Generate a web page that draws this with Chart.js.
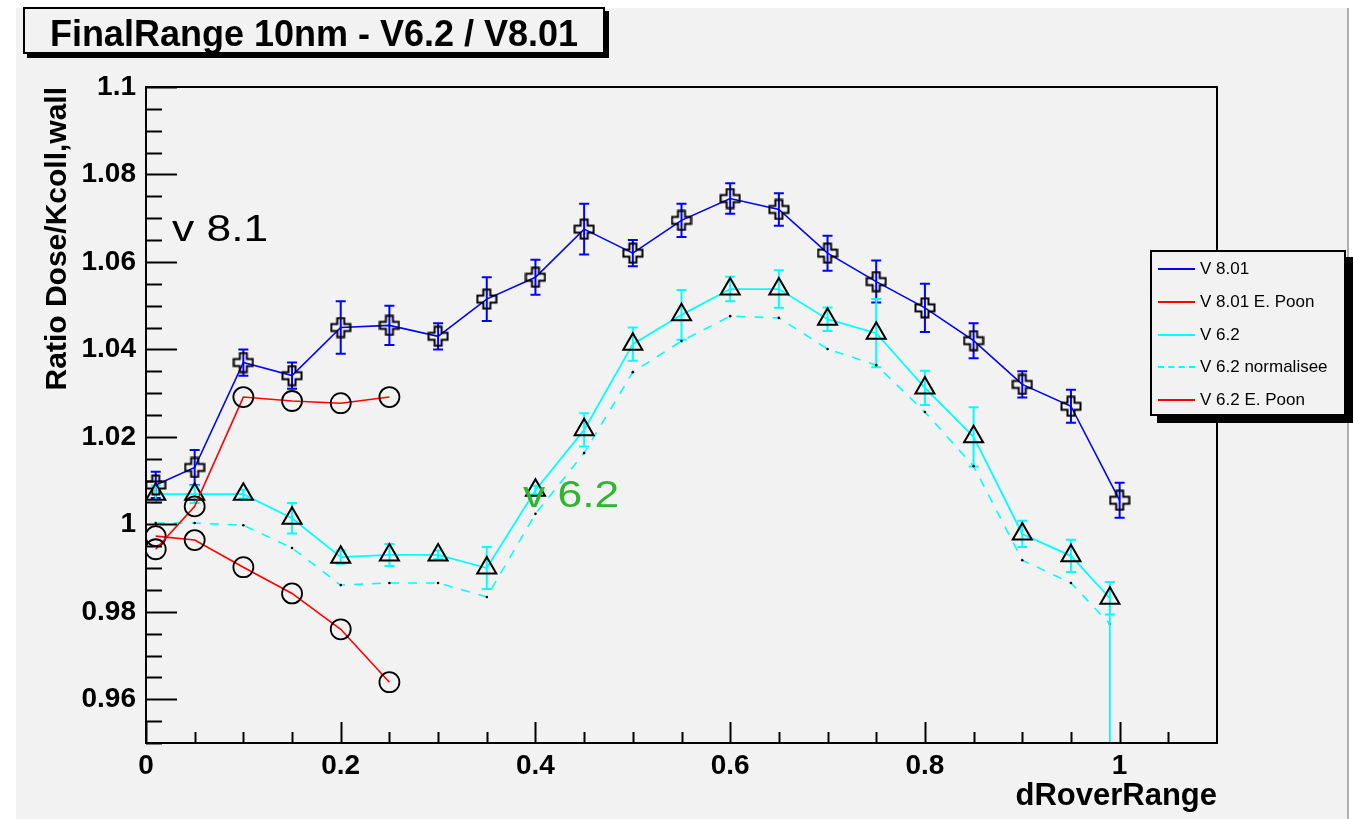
<!DOCTYPE html>
<html>
<head>
<meta charset="utf-8">
<title>FinalRange 10nm - V6.2 / V8.01</title>
<script src="https://cdn.jsdelivr.net/npm/chart.js@4.4.1/dist/chart.umd.min.js"></script>
<style>
    body { margin: 0; background: #ffffff; }
    #wrap { position: relative; width: 1353px; height: 819px; overflow: hidden; font-family: "Liberation Sans", Arial, sans-serif; }
    #pad { position: absolute; left: 16px; top: 8px; width: 1331px; height: 811px; background: #f2f2f2; border-right: 2px solid #b0b0b0; }
    #chart { position: absolute; left: 0; top: 0; }
    #title-box {
        position: absolute; left: 23px; top: 7px; width: 578px; height: 43px; overflow: hidden;
        border: 2px solid #000; background: #f2f2f2; box-shadow: 4px 4px 0 #000;
        font-weight: bold; font-size: 36px; line-height: 50px; text-align: center; color: #000;
    }
    #legend {
        position: absolute; left: 1150px; top: 250px; width: 192px; height: 162px;
        border: 2px solid #000; background: #f2f2f2; box-shadow: 7px 7px 0 #000;
    }
    .leg-row { position: absolute; left: 0; height: 22px; width: 190px; font-size: 17px; line-height: 22px; color: #000; white-space: nowrap; }
    .leg-line { position: absolute; left: 6px; top: 10px; width: 37px; height: 0; }
    .leg-text { position: absolute; left: 48px; top: 0; }
    .note { position: absolute; font-size: 37px; line-height: 1; transform: scaleX(1.2); transform-origin: left center; white-space: nowrap; }
</style>
</head>
<body>
<div id="wrap">
    <div id="pad"></div>
    <canvas id="chart" width="1353" height="819"></canvas>
    <div id="title-box">FinalRange 10nm - V6.2 / V8.01</div>
    <div id="legend"></div>
    <div class="note" style="left:172px; top:210px; color:#000;">v 8.1</div>
    <div class="note" style="left:523px; top:476px; color:#2fb52f;">v 6.2</div>
</div>
<script>
// --- données --------------------------------------------------------------
var xV801 = [0.01, 0.05, 0.1, 0.15, 0.2, 0.25, 0.3, 0.35, 0.4, 0.45, 0.5,
             0.55, 0.6, 0.65, 0.7, 0.75, 0.8, 0.85, 0.9, 0.95, 1.0];
var yV801 = [1.009, 1.013, 1.037, 1.034, 1.045, 1.0455, 1.043, 1.0515, 1.0565, 1.0675, 1.062,
             1.0695, 1.0745, 1.072, 1.062, 1.0555, 1.0495, 1.042, 1.032, 1.027, 1.0055];
var eV801 = [0.003, 0.004, 0.003, 0.003, 0.006, 0.0045, 0.003, 0.005, 0.004, 0.0058, 0.003,
             0.0038, 0.0035, 0.0037, 0.004, 0.0048, 0.0055, 0.004, 0.003, 0.0038, 0.004];

// V 6.2 : le dernier point (0.99, 0.90) est la chute verticale hors du cadre
var xV62 = [0.01, 0.05, 0.1, 0.15, 0.2, 0.25, 0.3, 0.35, 0.4, 0.45, 0.5,
            0.55, 0.6, 0.65, 0.7, 0.75, 0.8, 0.85, 0.9, 0.95, 0.99, 0.99];
var yV62 = [1.0069, 1.0069, 1.0069, 1.0014, 0.9925, 0.993, 0.993, 0.990, 1.0078, 1.0216, 1.0412,
            1.0479, 1.0538, 1.0538, 1.0469, 1.0437, 1.0312, 1.020, 0.9978, 0.9928, 0.9831, 0.90];
var eV62 = [0.002, 0.002, 0.001, 0.0035, 0.0015, 0.0025, 0.001, 0.0048, 0.001, 0.0038, 0.0038,
            0.0057, 0.0028, 0.0043, 0.0027, 0.0078, 0.0039, 0.0068, 0.003, 0.0037, 0.0037, null];

var xV62Norm = [0.01, 0.05, 0.1, 0.15, 0.2, 0.25, 0.3, 0.35, 0.4, 0.45, 0.5,
                0.55, 0.6, 0.65, 0.7, 0.75, 0.8, 0.85, 0.9, 0.95, 0.99];
var yV62Norm = [1.0003, 1.0003, 0.9998, 0.9946, 0.9861, 0.9866, 0.9866, 0.9834, 1.0024, 1.0163, 1.0348,
                1.0419, 1.0476, 1.0472, 1.0401, 1.0364, 1.0257, 1.0133, 0.9918, 0.9866, 0.9772];

var xPoon = [0.01, 0.05, 0.1, 0.15, 0.2, 0.25];
var yV801Poon = [0.9943, 1.0041, 1.0291, 1.0282, 1.0277, 1.0291];
var yV62Poon  = [0.9973, 0.9964, 0.9902, 0.9842, 0.976, 0.9639];

var xTicks = [0, 0.2, 0.4, 0.6, 0.8, 1];
var xTickLabels = ['0', '0.2', '0.4', '0.6', '0.8', '1'];
var yTicks = [0.96, 0.98, 1.0, 1.02, 1.04, 1.06, 1.08, 1.1];
var yTickLabels = ['0.96', '0.98', '1', '1.02', '1.04', '1.06', '1.08', '1.1'];

// --- réglages ----------------------------------------------------------------
var FONT = '"Liberation Sans", Arial, sans-serif';
var BLUE = '#0000ff', RED = '#ff0000', CYAN = '#00ffff';

function pts(xs, ys) {
    return xs.map(function (x, i) { return { x: x, y: ys[i] }; });
}

// marqueur "croix ouverte" façon ROOT
function makePlus() {
    var c = document.createElement('canvas');
    c.width = 22; c.height = 22;
    var g = c.getContext('2d');
    var s = 11, a = 3.5, r = 9.5;
    g.beginPath();
    g.moveTo(s - a, s - r); g.lineTo(s + a, s - r); g.lineTo(s + a, s - a);
    g.lineTo(s + r, s - a); g.lineTo(s + r, s + a); g.lineTo(s + a, s + a);
    g.lineTo(s + a, s + r); g.lineTo(s - a, s + r); g.lineTo(s - a, s + a);
    g.lineTo(s - r, s + a); g.lineTo(s - r, s - a); g.lineTo(s - a, s - a);
    g.closePath();
    g.lineWidth = 2;
    g.strokeStyle = '#000';
    g.stroke();
    return c;
}

var datasets = [
    {
        label: 'V 8.01', data: pts(xV801, yV801), errors: eV801, errorColor: BLUE,
        borderColor: BLUE, borderWidth: 1.6, pointStyle: makePlus(), pointRadius: 11
    },
    {
        label: 'V 8.01 E. Poon', data: pts(xPoon, yV801Poon),
        borderColor: RED, borderWidth: 1.6, pointStyle: 'circle', pointRadius: 10,
        pointBorderColor: '#000', pointBorderWidth: 1.8, pointBackgroundColor: 'rgba(0,0,0,0)'
    },
    {
        label: 'V 6.2', data: pts(xV62, yV62), errors: eV62, errorColor: CYAN,
        borderColor: CYAN, borderWidth: 1.8, pointStyle: 'triangle',
        pointRadius: function (ctx) { return ctx.dataIndex === xV62.length - 1 ? 0 : 11; },
        pointBorderColor: '#000', pointBorderWidth: 2, pointBackgroundColor: 'rgba(0,0,0,0)'
    },
    {
        label: 'V 6.2 normalisee', data: pts(xV62Norm, yV62Norm), dashed: true,
        borderColor: CYAN, borderWidth: 1.6, borderDash: [9, 9], pointStyle: 'circle', pointRadius: 1.3,
        pointBorderWidth: 0, pointBackgroundColor: '#000'
    },
    {
        label: 'V 6.2 E. Poon', data: pts(xPoon, yV62Poon),
        borderColor: RED, borderWidth: 1.6, pointStyle: 'circle', pointRadius: 10,
        pointBorderColor: '#000', pointBorderWidth: 1.8, pointBackgroundColor: 'rgba(0,0,0,0)'
    }
];

// barres d'erreur verticales avec petits chapeaux
var errorBars = {
    id: 'errorBars',
    beforeDatasetsDraw: function (chart) {
        var ctx = chart.ctx, area = chart.chartArea;
        var xs = chart.scales.x, ys = chart.scales.y;
        ctx.save();
        ctx.beginPath();
        ctx.rect(area.left, area.top, area.right - area.left, area.bottom - area.top);
        ctx.clip();
        chart.data.datasets.forEach(function (ds) {
            if (!ds.errors) return;
            ctx.strokeStyle = ds.errorColor;
            ctx.lineWidth = 2;
            ds.data.forEach(function (p, i) {
                var e = ds.errors[i];
                if (e == null) return;
                var px = xs.getPixelForValue(p.x);
                var y1 = ys.getPixelForValue(p.y + e);
                var y2 = ys.getPixelForValue(p.y - e);
                ctx.beginPath();
                ctx.moveTo(px, y1); ctx.lineTo(px, y2);
                ctx.moveTo(px - 5, y1); ctx.lineTo(px + 5, y1);
                ctx.moveTo(px - 5, y2); ctx.lineTo(px + 5, y2);
                ctx.stroke();
            });
        });
        ctx.restore();
    }
};

// cadre + graduations vers l'intérieur (style ROOT)
var frameTicks = {
    id: 'frameTicks',
    afterDatasetsDraw: function (chart) {
        var ctx = chart.ctx, a = chart.chartArea;
        var xs = chart.scales.x, ys = chart.scales.y;
        ctx.save();
        ctx.strokeStyle = '#000';
        ctx.lineWidth = 2;
        ctx.strokeRect(a.left, a.top, a.right - a.left, a.bottom - a.top);
        ctx.beginPath();
        var i, v, p;
        for (i = 0; i <= 30; i++) {
            v = 0.95 + i * 0.005;
            p = Math.round(ys.getPixelForValue(v)) + 0.5;
            var major = Math.abs(Math.round(v * 50) - v * 50) < 1e-6;
            ctx.moveTo(a.left, p);
            ctx.lineTo(a.left + (major ? 31 : 16), p);
        }
        for (i = 0; i <= 21; i++) {
            v = i * 0.05;
            p = Math.round(xs.getPixelForValue(v)) + 0.5;
            var majorX = i % 4 === 0;
            ctx.moveTo(p, a.bottom);
            ctx.lineTo(p, a.bottom - (majorX ? 21 : 11));
        }
        ctx.stroke();
        ctx.restore();
    }
};

var tickFont = { family: FONT, size: 28, weight: 'bold' };

new Chart(document.getElementById('chart').getContext('2d'), {
    type: 'line',
    data: { datasets: datasets },
    options: {
        responsive: false,
        animation: false,
        layout: { padding: { left: 0, right: 136, top: 87, bottom: 0 } },
        elements: { line: { tension: 0 } },
        plugins: { legend: { display: false }, tooltip: { enabled: false } },
        scales: {
            x: {
                type: 'linear', min: 0, max: 1.1,
                grid: { display: false, drawTicks: false },
                border: { display: false },
                afterBuildTicks: function (s) { s.ticks = xTicks.map(function (v) { return { value: v }; }); },
                afterFit: function (s) { s.height = 76; },
                ticks: {
                    font: tickFont, color: '#000', padding: 6, maxRotation: 0, autoSkip: false,
                    callback: function (v, i) { return xTickLabels[i]; }
                },
                title: {
                    display: true, text: 'dRoverRange', align: 'end', color: '#000',
                    font: { family: FONT, size: 31, weight: 'bold' }, padding: { top: 0, bottom: 4 }
                }
            },
            y: {
                type: 'linear', min: 0.95, max: 1.1,
                grid: { display: false, drawTicks: false },
                border: { display: false },
                afterBuildTicks: function (s) { s.ticks = yTicks.map(function (v) { return { value: v }; }); },
                afterFit: function (s) { s.width = 146; },
                ticks: {
                    font: tickFont, color: '#000', padding: 10, autoSkip: false,
                    callback: function (v, i) { return yTickLabels[i]; }
                },
                title: {
                    display: true, text: 'Ratio Dose/Kcoll,wall', align: 'end', color: '#000',
                    font: { family: FONT, size: 30, weight: 'bold' }, padding: { top: 40, bottom: 0 }
                }
            }
        }
    },
    plugins: [errorBars, frameTicks]
});

// légende HTML construite à partir des séries
var legend = document.getElementById('legend');
datasets.forEach(function (ds, i) {
    var row = document.createElement('div');
    row.className = 'leg-row';
    row.style.top = (6 + i * 32.8) + 'px';
    var line = document.createElement('div');
    line.className = 'leg-line';
    line.style.borderTop = '2px ' + (ds.dashed ? 'dashed ' : 'solid ') + ds.borderColor;
    var txt = document.createElement('span');
    txt.className = 'leg-text';
    txt.textContent = ds.label;
    row.appendChild(line);
    row.appendChild(txt);
    legend.appendChild(row);
});
</script>
</body>
</html>
